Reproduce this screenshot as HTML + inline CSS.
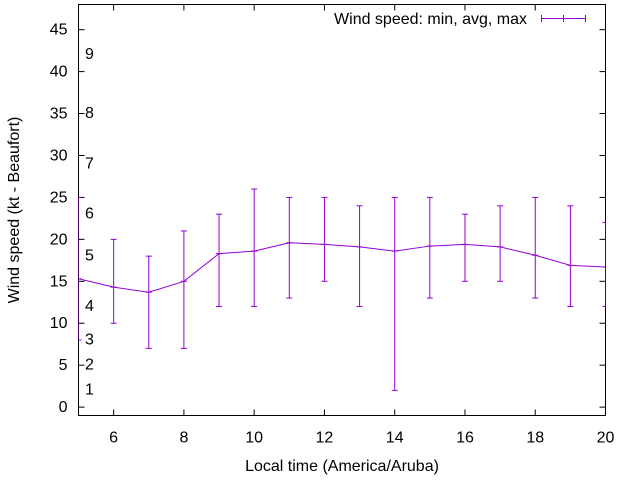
<!DOCTYPE html>
<html><head><meta charset="utf-8"><style>body{margin:0;background:#fff}svg{display:block;font-family:"Liberation Sans",sans-serif}</style></head>
<body>
<svg id="c" width="640" height="480"></svg>
<script>
const hours=[5,6,7,8,9,10,11,12,13,14,15,16,17,18,19,20];
const minV=[8,10,7,7,12,12,13,15,12,2,13,15,15,13,12,12];
const avgV=[15.3,14.3,13.7,15,18.3,18.6,19.6,19.4,19.1,18.6,19.2,19.4,19.1,18.1,16.9,16.7];
const maxV=[25,20,18,21,23,26,25,25,24,25,25,23,24,25,24,22];
const xTicks=[6,8,10,12,14,16,18,20];
const yTicks=[0,5,10,15,20,25,30,35,40,45];
const bfLabels=["1","2","3","4","5","6","7","8","9"];
const bfKt=[1,4,7,11,17,22,28,34,41];
const L=78.5,R=605.5,T=4.5,B=415.5,X0=5,X1=20,Y0=-1,Y1=48;
const sx=v=>L+(v-X0)/(X1-X0)*(R-L), sy=v=>B-(v-Y0)/(Y1-Y0)*(B-T);
const svg=document.getElementById('c'),NS='http://www.w3.org/2000/svg';
function mk(t,a,p){const e=document.createElementNS(NS,t);for(const k in a)e.setAttribute(k,a[k]);(p||svg).appendChild(e);return e;}
const clip=mk('clipPath',{id:'pc'});mk('rect',{x:L,y:T,width:R-L,height:B-T},clip);
const ax=mk('g',{stroke:'#000','stroke-width':1,fill:'none'});

yTicks.forEach(v=>{const y=sy(v);mk('line',{x1:L,x2:L+6,y1:y,y2:y},ax);mk('line',{x1:R,x2:R-6,y1:y,y2:y},ax);
const t=mk('text',{x:L-11,y:y+5,'text-anchor':'end','font-size':16,fill:'#000'});t.textContent=v;
});
xTicks.forEach(v=>{const x=sx(v);mk('line',{x1:x,x2:x,y1:B,y2:B-6},ax);mk('line',{x1:x,x2:x,y1:T,y2:T+6},ax);
const t=mk('text',{x:x,y:B+27,'text-anchor':'middle','font-size':16,fill:'#000'});t.textContent=v;
});
mk('rect',{x:L,y:T,width:R-L,height:B-T},ax);
bfLabels.forEach((s,i)=>{const t=mk('text',{x:85,y:sy(bfKt[i])-4,'font-size':16,fill:'#000'});t.textContent=s;
});
const g=mk('g',{stroke:'#9400d3','stroke-width':1,fill:'none','clip-path':'url(#pc)'});

hours.forEach((h,i)=>{const x=sx(h);mk('line',{x1:x,x2:x,y1:sy(minV[i]),y2:sy(maxV[i])},g);
mk('line',{x1:x-3,x2:x+3,y1:sy(minV[i]),y2:sy(minV[i])},g);mk('line',{x1:x-3,x2:x+3,y1:sy(maxV[i]),y2:sy(maxV[i])},g);
mk('line',{x1:x-3,x2:x+3,y1:sy(avgV[i]),y2:sy(avgV[i])},g);});
const p=mk('polyline',{points:hours.map((h,i)=>sx(h)+','+sy(avgV[i])).join(' ')},g);

const lg=mk('g',{});
const lt=mk('text',{x:527,y:24,'text-anchor':'end','font-size':16,fill:'#000'},lg);lt.textContent='Wind speed: min, avg, max';
const ls=mk('g',{stroke:'#9400d3','stroke-width':1},lg);
mk('line',{x1:541,x2:585,y1:18.5,y2:18.5},ls);mk('line',{x1:541.5,x2:541.5,y1:15,y2:22},ls);mk('line',{x1:585.5,x2:585.5,y1:15,y2:22},ls);mk('line',{x1:563.5,x2:563.5,y1:15,y2:22},ls);
const xt=mk('text',{x:(L+R)/2,y:471,'text-anchor':'middle','font-size':16,fill:'#000'});xt.textContent='Local time (America/Aruba)';

const yt=mk('text',{x:0,y:0,'text-anchor':'middle','font-size':16,fill:'#000',transform:'translate(19,210) rotate(-90)'});yt.textContent='Wind speed (kt - Beaufort)';

</script>
</body></html>
